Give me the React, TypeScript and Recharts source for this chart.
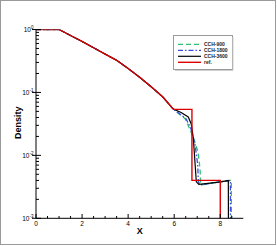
import { LineChart, Line, XAxis, YAxis, Legend, Label } from 'recharts'

// smooth rarefaction part, shared by every run
const smoothX = [0, 1, 1.5, 2, 2.5, 3, 3.5, 4, 4.5, 5, 5.5]
const smoothRho = [1, 1, 0.803, 0.646, 0.513, 0.407, 0.324, 0.24, 0.174, 0.123, 0.0851]

// tails past x = 5.5
const refX = [5.97, 6.77, 6.77, 8.0, 8.0]
const refRho = [0.0538, 0.0538, 0.004, 0.004, 0.0001]

const cch900X = [5.9, 6.17, 6.48, 6.7, 6.84, 7.03, 7.09, 7.13, 7.14, 7.2, 7.8, 8.48, 8.49]
const cch900Rho = [0.0575, 0.0468, 0.038, 0.0251, 0.0188, 0.0115, 0.0078, 0.0054, 0.0038, 0.0034, 0.0037, 0.004, 0.0001]

const cch1800X = [5.95, 6.13, 6.52, 6.72, 6.91, 7.02, 7.05, 7.13, 7.8, 8.44, 8.45]
const cch1800Rho = [0.0548, 0.049, 0.038, 0.0269, 0.0145, 0.0071, 0.0038, 0.0034, 0.0037, 0.004, 0.0001]

const cch3600X = [5.96, 6.3, 6.61, 6.74, 6.83, 6.96, 7.07, 7.57, 8.0, 8.35, 8.36]
const cch3600Rho = [0.0545, 0.0479, 0.0407, 0.0316, 0.0188, 0.0038, 0.00347, 0.00363, 0.0038, 0.00398, 0.0001]

const xTicks = [0, 0.5, 1, 1.5, 2, 2.5, 3, 3.5, 4, 4.5, 5, 5.5, 6, 6.5, 7, 7.5, 8, 8.5]
const yTicks = [
  0.001, 0.002, 0.003, 0.004, 0.005, 0.006, 0.007, 0.008, 0.009,
  0.01, 0.02, 0.03, 0.04, 0.05, 0.06, 0.07, 0.08, 0.09,
  0.1, 0.2, 0.3, 0.4, 0.5, 0.6, 0.7, 0.8, 0.9, 1,
]

const toPoints = (xs: number[], ys: number[]) => xs.map((x, i) => ({ x, rho: ys[i] }))
const withSmooth = (xs: number[], ys: number[]) => [...toPoints(smoothX, smoothRho), ...toPoints(xs, ys)]

const series = [
  { name: 'CCH-900', data: withSmooth(cch900X, cch900Rho), color: '#2fbf71', dash: '5 3', width: 1.3 },
  { name: 'CCH-1800', data: withSmooth(cch1800X, cch1800Rho), color: '#3a4fe0', dash: '5 2 1.5 2', width: 1.3 },
  { name: 'CCH-3600', data: withSmooth(cch3600X, cch3600Rho), color: '#000000', dash: undefined, width: 1.2 },
  { name: 'ref.', data: withSmooth(refX, refRho), color: '#dd0000', dash: undefined, width: 1.4 },
]

const font = 'Liberation Sans, Arial, Helvetica, sans-serif'

function XTick(props: any) {
  const { x, y, payload } = props
  const v = payload.value
  const major = v % 2 === 0
  return (
    <g>
      <line x1={x} x2={x} y1={y} y2={y - (major ? 4.3 : 2.3)} stroke="#000" strokeWidth={1} />
      {major && (
        <text x={x} y={y + 7.3} textAnchor="middle" fontSize={6.5} fontFamily={font} fill="#000">
          {v}
        </text>
      )}
    </g>
  )
}

function YTick(props: any) {
  const { x, y, payload } = props
  const lg = Math.log10(payload.value)
  const major = Math.abs(lg - Math.round(lg)) < 1e-6
  return (
    <g>
      <line x1={major ? x - 4 : x} x2={x + (major ? 5 : 3)} y1={y} y2={y} stroke="#000" strokeWidth={1} />
      {major && (
        <text x={x - 2.5} y={y + 2.3} textAnchor="end" fontSize={6.5} fontFamily={font} fill="#000">
          <tspan>10</tspan>
          <tspan dy={-2.6} fontSize={4.5}>{Math.round(lg)}</tspan>
        </text>
      )}
    </g>
  )
}

function LegendBox() {
  return (
    <svg width={61} height={36} style={{ display: 'block' }}>
      <rect x={0.5} y={0.5} width={59} height={34} fill="#fff" stroke="#9a9a9a" strokeWidth={1} />
      <line x1={60} x2={60} y1={2} y2={35.5} stroke="#cfcfcf" />
      <line x1={2} x2={60} y1={35.5} y2={35.5} stroke="#cfcfcf" />
      {series.map((s, i) => (
        <g key={s.name}>
          <line
            x1={5}
            x2={28}
            y1={9.3 + i * 6}
            y2={9.3 + i * 6}
            stroke={s.color}
            strokeWidth={s.width}
            strokeDasharray={s.dash}
          />
          <text x={31} y={11 + i * 6} fontSize={5} fontWeight="bold" fontFamily={font} fill="#222">
            {s.name}
          </text>
        </g>
      ))}
    </svg>
  )
}

export default function App() {
  return (
    <div style={{ position: 'absolute', left: 0, top: 0, width: 277, height: 246, background: '#fff' }}>
      <div
        style={{
          position: 'absolute',
          left: 0,
          top: 0,
          width: 276,
          height: 245,
          border: '1px solid #9a9a9a',
          boxSizing: 'border-box',
        }}
      />
      <LineChart width={277} height={246} margin={{ top: 29.5, right: 33.7, bottom: 7.7, left: 16 }}>
        <XAxis
          type="number"
          dataKey="x"
          domain={[0, 9]}
          ticks={xTicks}
          interval={0}
          tickSize={0}
          tickMargin={0}
          tickLine={false}
          tick={<XTick />}
          axisLine={{ stroke: '#000', strokeWidth: 1 }}
          height={20}
          allowDecimals
        >
          <Label
            value="X"
            position="insideBottom"
            offset={4}
            style={{ fontSize: 9, fontWeight: 'bold', fontFamily: font, fill: '#000' }}
          />
        </XAxis>
        <YAxis
          type="number"
          dataKey="rho"
          scale="log"
          domain={[0.001, 1]}
          allowDataOverflow
          ticks={yTicks}
          interval={0}
          tickSize={0}
          tickMargin={0}
          tickLine={false}
          tick={<YTick />}
          axisLine={{ stroke: '#000', strokeWidth: 1 }}
          width={20}
        >
          <Label
            content={() => (
              <text
                x={18.3}
                y={122.7}
                transform="rotate(-90 18.3 122.7)"
                textAnchor="middle"
                dominantBaseline="central"
                fontSize={9}
                fontWeight="bold"
                fontFamily={font}
                fill="#000"
              >
                Density
              </text>
            )}
          />
        </YAxis>
        <Legend
          verticalAlign="middle"
          align="center"
          wrapperStyle={{ position: 'absolute', left: 173, top: 35, width: 61, height: 36 }}
          content={() => <LegendBox />}
        />
        {series.map((s) => (
          <Line
            key={s.name}
            data={s.data}
            dataKey="rho"
            name={s.name}
            type="linear"
            stroke={s.color}
            strokeWidth={s.width}
            strokeDasharray={s.dash}
            dot={false}
            activeDot={false}
            isAnimationActive={false}
          />
        ))}
      </LineChart>
    </div>
  )
}
